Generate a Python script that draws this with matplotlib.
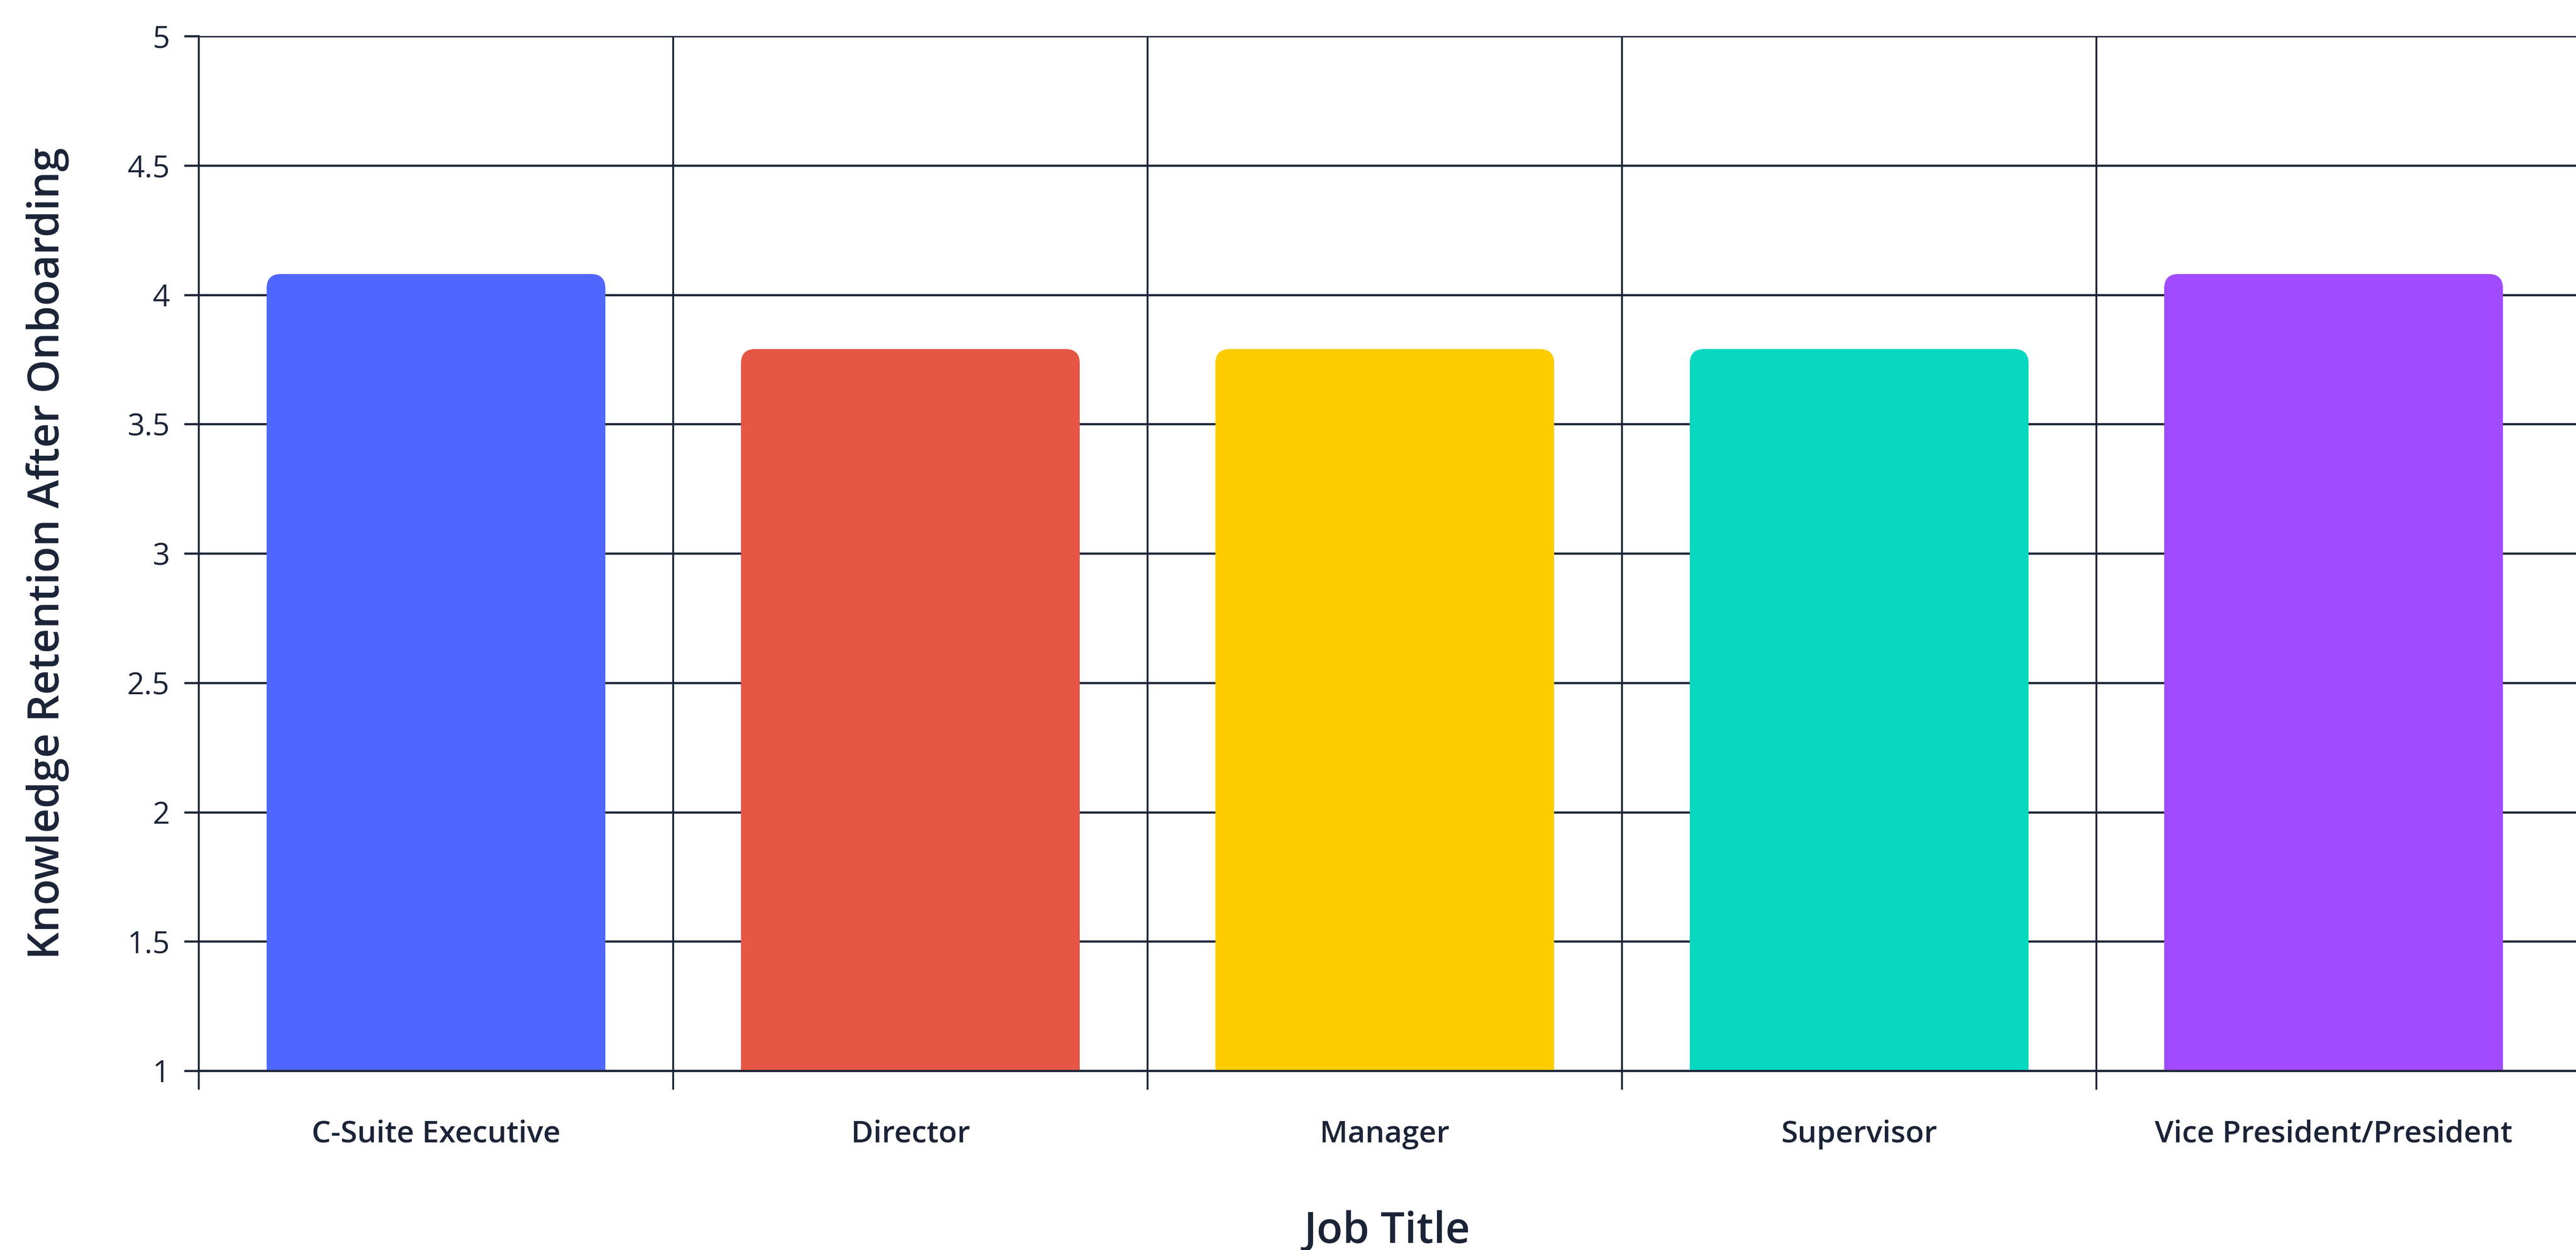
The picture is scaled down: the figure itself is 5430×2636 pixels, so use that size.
import matplotlib
matplotlib.use("Agg")
import matplotlib.pyplot as plt
import numpy as np
from matplotlib.patches import FancyBboxPatch

job_titles = ["C-Suite Executive", "Director", "Manager", "Supervisor",
              "Vice President/President"]
retention = [4.08, 3.79, 3.79, 3.79, 4.08]
bar_colors = ["#4F66FF", "#E55645", "#FFCC00", "#07D8BF", "#A04BFF"]
y_ticks = [1, 1.5, 2, 2.5, 3, 3.5, 4, 4.5, 5]
y_tick_labels = ["1", "1.5", "2", "2.5", "3", "3.5", "4", "4.5", "5"]

ink = "#1B2437"
plt.rcParams["font.family"] = ["Open Sans", "DejaVu Sans"]

W, H = 5430, 2636
fig = plt.figure(figsize=(W / 100, H / 100), dpi=100)
left, top, bottom = 419, 76, 2258
ax = fig.add_axes([left / W, 1 - bottom / H, 1 - left / W, (bottom - top) / H])

x = np.arange(len(job_titles))
ax.set_xlim(-0.5, len(job_titles) - 0.5 + 0.011)
ax.set_ylim(1, 5)

# plain bars first, then swap each for a box with rounded top corners
bars = ax.bar(x, retention, width=0.714, color=bar_colors, zorder=2)
bb = ax.get_window_extent()
px_x = bb.width / np.diff(ax.get_xlim())[0]
px_y = bb.height / np.diff(ax.get_ylim())[0]
aspect = px_x / px_y
radius = 30 / px_x
for rect in bars:
    x0, w, h = rect.get_x(), rect.get_width(), rect.get_height()
    rect.set_visible(False)
    ax.add_patch(FancyBboxPatch((x0, 0), w, h,
                                boxstyle=f"round,pad=0,rounding_size={radius}",
                                mutation_aspect=aspect,
                                facecolor=rect.get_facecolor(),
                                edgecolor="none", zorder=2))

for side in ["top", "right"]:
    ax.spines[side].set_visible(False)
ax.spines["left"].set_color(ink)
ax.spines["left"].set_linewidth(2.8)
ax.spines["bottom"].set_color(ink)
ax.spines["bottom"].set_linewidth(3.3)
ax.spines["bottom"].set_capstyle("round")

ax.set_yticks(y_ticks, y_tick_labels)
ax.tick_params(axis="y", length=22, width=3.3, color=ink, pad=22,
               labelsize=46, labelcolor=ink)
ax.yaxis.grid(True, color=ink, linewidth=3.3, zorder=0)

ax.set_xticks(x, job_titles)
ax.set_xticks(np.arange(-0.5, len(job_titles) - 1), minor=True)
ax.tick_params(axis="x", which="major", length=0, pad=74,
               labelsize=46, labelcolor=ink)
for lbl in ax.get_xticklabels():
    lbl.set_fontweight("semibold")
ax.tick_params(axis="x", which="minor", length=29, width=2.8, color=ink)
ax.xaxis.grid(True, which="minor", color=ink, linewidth=2.8, zorder=0)
ax.set_axisbelow(True)

ax.set_xlabel("Job Title", fontsize=65, fontweight="semibold", color=ink,
              labelpad=92)
ax.set_ylabel("Knowledge Retention After Onboarding", fontsize=65,
              fontweight="semibold", color=ink, labelpad=88)

fig.savefig("out.png", dpi=100, facecolor="white")
